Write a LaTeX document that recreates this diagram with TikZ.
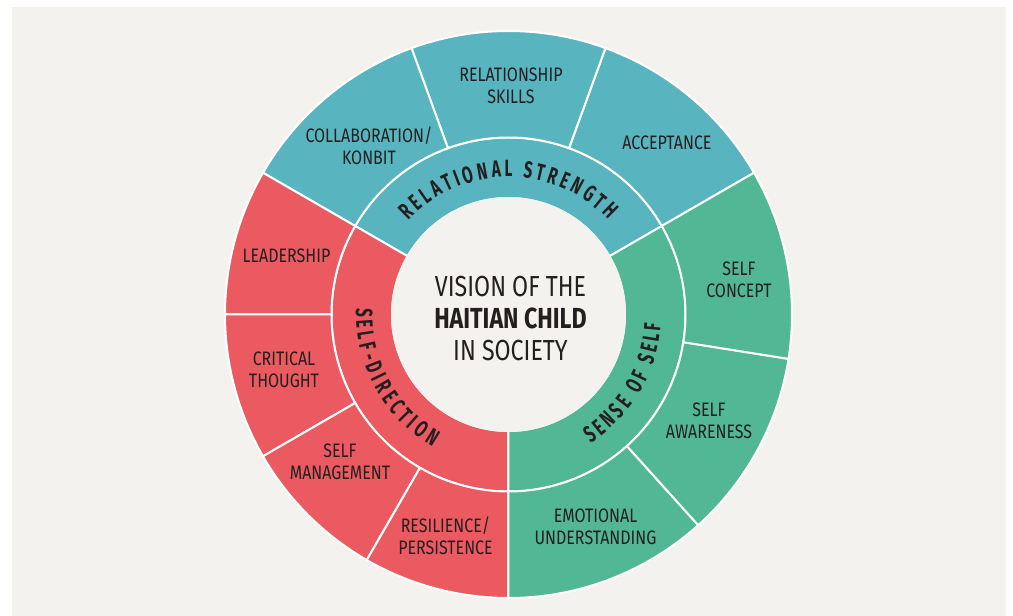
\documentclass[tikz,border=0pt]{standalone}
\usepackage{fontspec}
\setmainfont{Fira Sans}
\newfontfamily\lblf{Fira Sans}[FakeStretch=0.82]
\newfontfamily\ctrf{Fira Sans}[FakeStretch=0.8]
\newfontfamily\arcf{Fira Sans}[FakeStretch=0.65]
\definecolor{bgc}{HTML}{F4F2EE}
\definecolor{tealc}{HTML}{58B4BE}
\definecolor{greenc}{HTML}{52B795}
\definecolor{redc}{HTML}{EA5A60}
\definecolor{textc}{HTML}{231F20}
\newcommand\arcstyle{\arcf\bfseries\fontsize{23.5}{24}\selectfont}
\newcommand\ringseg[5]{\filldraw[fill=#5,draw=white,line width=2pt] (#3:#1) arc[start angle=#3,end angle=#4,radius=#1] -- (#4:#2) arc[start angle=#4,end angle=#3,radius=#2] -- cycle;}
% #1 baseline radius, #2 centre angle, #3 direction (1: clockwise, tops outward; -1: counter-clockwise, tops inward), #4 gap, #5 letter/width pairs
\newcommand\arcletters[5]{%
  \xdef\arctot{0}%
  \foreach \ch/\cw in {#5}{%
    \pgfmathsetmacro\nt{\arctot+\cw+#4}%
    \xdef\arctot{\nt}%
  }%
  \pgfmathsetmacro\st{-(\arctot-#4)/2}%
  \xdef\arcpos{\st}%
  \foreach \ch/\cw in {#5}{%
    \pgfmathsetmacro\md{\arcpos+\cw/2}%
    \pgfmathsetmacro\ang{#2-#3*\md/#1*180/pi}%
    \pgfmathsetmacro\rot{\ang-#3*90}%
    \node[arcletter,rotate=\rot] at (\ang:#1) {\ch};%
    \pgfmathsetmacro\np{\arcpos+\cw+#4}%
    \xdef\arcpos{\np}%
  }%
}
\tikzset{
  lab/.style={align=center,text=textc,font=\lblf\fontsize{19.5}{22}\selectfont,inner sep=0pt},
  ctr/.style={align=center,text=textc,font=\ctrf\fontsize{29}{32}\selectfont,inner sep=0pt},
  arcletter/.style={anchor=base,inner sep=0pt,text=textc,font=\arcstyle},
}
\begin{document}
\begin{tikzpicture}[x=1pt,y=1pt]
\useasboundingbox (-508.5,-301.5) rectangle (504.5,314.5);
\fill[white] (-508.5,-301.5) rectangle (504.5,314.5);
\fill[bgc] (-496.5,-301.5) rectangle (497.5,307.5);
% inner ring
\ringseg{116.5}{177}{30}{150}{tealc}
\ringseg{116.5}{177}{150}{270}{redc}
\ringseg{116.5}{177}{-90}{30}{greenc}
% outer ring
\ringseg{177}{283.5}{30}{70}{tealc}
\ringseg{177}{283.5}{70}{110}{tealc}
\ringseg{177}{283.5}{110}{150}{tealc}
\ringseg{177}{283.5}{150}{180}{redc}
\ringseg{177}{283.5}{180}{210}{redc}
\ringseg{177}{283.5}{210}{240}{redc}
\ringseg{177}{283.5}{240}{270}{redc}
\ringseg{177}{283.5}{-90}{-48}{greenc}
\ringseg{177}{283.5}{-48}{-9}{greenc}
\ringseg{177}{283.5}{-9}{30}{greenc}
% centre disc
\fill[bgc] (0,0) circle[radius=117.5];
\node[ctr] (vision) at (2,-4) {VISION OF THE\\{\bfseries HAITIAN CHILD}\\IN SOCIETY};
% arc titles
\arcletters{137.5}{90}{1}{3.5}{R/9.2,E/8.1,L/7.3,A/9.3,T/8.1,I/4.4,O/10.6,N/10.6,A/9.3,L/7.3,~/3.8,S/8.4,T/8.1,R/9.2,E/8.1,N/10.6,G/9.8,T/8.1,H/10.6}
\arcletters{152.5}{209}{-1}{4.3}{S/8.4,E/8.1,L/7.3,F/7.6,-/5.8,D/9.9,I/4.4,R/9.2,E/8.1,C/8.6,T/8.1,I/4.4,O/10.6,N/10.6}
\arcletters{152.5}{-30.5}{-1}{3.5}{S/8.4,E/8.1,N/10.6,S/8.4,E/8.1,~/3.8,O/10.6,F/7.6,~/3.8,S/8.4,E/8.1,L/7.3,F/7.6}
% outer labels
\node[lab] (collab) at (-139.5,168.5) {COLLABORATION/\\KONBIT};
\node[lab] (relskills) at (2.5,228.5) {RELATIONSHIP\\SKILLS};
\node[lab] (accept) at (158.5,171.5) {ACCEPTANCE};
\node[lab] (concept) at (230.5,34.5) {SELF\\CONCEPT};
\node[lab] (aware) at (200.5,-106.5) {SELF\\AWARENESS};
\node[lab] (emot) at (87,-212.5) {EMOTIONAL\\UNDERSTANDING};
\node[lab] (lead) at (-222,58.5) {LEADERSHIP};
\node[lab] (crit) at (-224.5,-55.5) {CRITICAL\\THOUGHT};
\node[lab] (mgmt) at (-168.5,-147.5) {SELF\\MANAGEMENT};
\node[lab] (resil) at (-63,-221.5) {RESILIENCE/\\PERSISTENCE};
\end{tikzpicture}
\end{document}
